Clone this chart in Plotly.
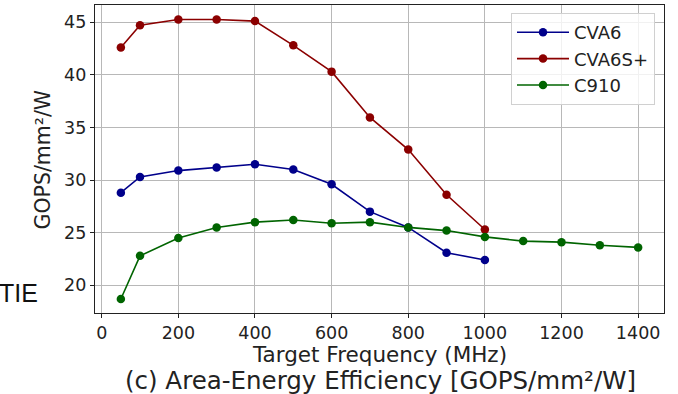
import plotly.graph_objects as go

freq_cva6 = [50, 100, 200, 300, 400, 500, 600, 700, 800, 900, 1000]
cva6 = [28.8, 30.3, 30.9, 31.2, 31.5, 31.0, 29.6, 27.0, 25.5, 23.1, 22.4]
freq_cva6s = [50, 100, 200, 300, 400, 500, 600, 700, 800, 900, 1000]
cva6s = [42.6, 44.7, 45.25, 45.25, 45.1, 42.8, 40.3, 35.95, 32.9, 28.6, 25.3]
freq_c910 = [50, 100, 200, 300, 400, 500, 600, 700, 800, 900, 1000, 1100, 1200, 1300, 1400]
c910 = [18.7, 22.8, 24.5, 25.5, 26.0, 26.2, 25.9, 26.0, 25.5, 25.2, 24.6, 24.2, 24.1, 23.8, 23.6]

x_ticks = [0, 200, 400, 600, 800, 1000, 1200, 1400]
y_ticks = [20, 25, 30, 35, 40, 45]

FONT = "DejaVu Sans"
W, H = 678, 394
ML, MR, MT, MB = 95, 14, 5, 81
W_plot = W - ML - MR
H_plot = H - MT - MB


def px(pix):
    return (pix - ML) / W_plot


def py(pix):
    return (H - MB - pix) / H_plot


fig = go.Figure()
for name, xs, ys, col in [("CVA6", freq_cva6, cva6, "#00008b"),
                          ("CVA6S+", freq_cva6s, cva6s, "#8b0000"),
                          ("C910", freq_c910, c910, "#006400")]:
    fig.add_trace(go.Scatter(x=xs, y=ys, name=name, mode="lines+markers",
                             legendgroup=name,
                             line=dict(color=col, width=1.6),
                             marker=dict(color=col, size=8.5)))

axis_common = dict(showline=True, linecolor="#222", linewidth=1.2, mirror=True,
                   ticks="outside", ticklen=4, tickcolor="#222", automargin=False,
                   showgrid=True, gridcolor="#b8b8b8", gridwidth=0.9,
                   zeroline=False, tickfont=dict(family=FONT, size=17.5, color="#222"))
fig.update_xaxes(range=[-17.5, 1467.5], tickvals=x_ticks, **axis_common)
fig.update_yaxes(range=[17.37, 46.63], tickvals=y_ticks, **axis_common)

fig.update_layout(
    width=W, height=H,
    margin=dict(l=ML, r=MR, t=MT, b=MB),
    paper_bgcolor="white", plot_bgcolor="white",
    showlegend=True,
    legend=dict(x=px(655), y=py(13), xanchor="right", yanchor="top",
                bgcolor="rgba(255,255,255,0.8)", bordercolor="#d0d0d0", borderwidth=1,
                font=dict(family=FONT, size=18, color="#222"), tracegroupgap=0,
                itemwidth=52),
    annotations=[
        dict(text="Target Frequency (MHz)", x=px(379.5), y=py(355), xref="paper", yref="paper",
             xanchor="center", yanchor="middle",
             showarrow=False, font=dict(family=FONT, size=21.5, color="#222")),
        dict(text="(c) Area-Energy Efficiency [GOPS/mm²/W]", x=px(380), y=py(380),
             xref="paper", yref="paper", xanchor="center", yanchor="middle",
             showarrow=False, font=dict(family=FONT, size=24.5, color="#222")),
        dict(text="GOPS/mm²/W", x=px(42.5), y=py(160), xref="paper", yref="paper",
             xanchor="center", yanchor="middle", textangle=-90,
             showarrow=False, font=dict(family=FONT, size=20.5, color="#222")),
        dict(text="TIE", x=px(-3), y=py(293), xref="paper", yref="paper",
             xanchor="left", yanchor="middle", showarrow=False,
             font=dict(family="Liberation Sans", size=25, color="#111")),
    ],
)

fig.write_html("out.html", config={"displayModeBar": False},
               post_script="document.body.style.margin='0px';document.body.style.overflow='hidden';")
